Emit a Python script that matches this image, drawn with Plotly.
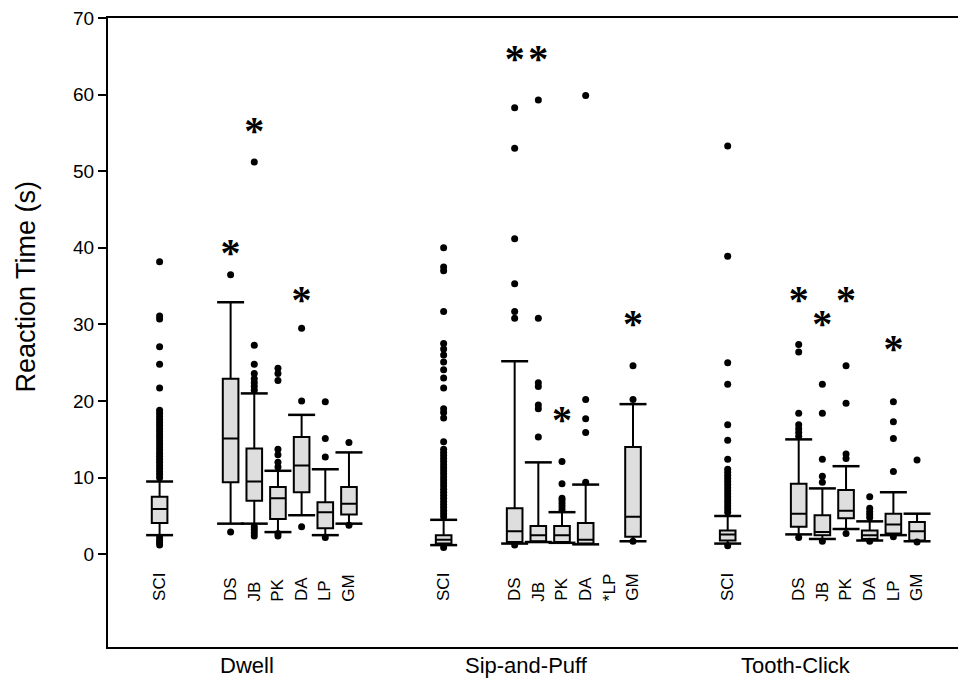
import plotly.graph_objects as go

# ---------------- data ----------------
groups = ["Dwell", "Sip-and-Puff", "Tooth-Click"]
categories = ["SCI", "DS", "JB", "PK", "DA", "LP", "GM"]
cat_labels = {
    "Dwell": ["SCI", "DS", "JB", "PK", "DA", "LP", "GM"],
    "Sip-and-Puff": ["SCI", "DS", "JB", "PK", "DA", "*LP", "GM"],
    "Tooth-Click": ["SCI", "DS", "JB", "PK", "DA", "LP", "GM"],
}

# box statistics per group (order follows categories); None = no data
dwell_lower = [2.5, 4.0, 4.0, 2.9, 5.1, 2.5, 4.0]
dwell_q1 = [4.1, 9.4, 7.0, 4.6, 8.1, 3.4, 5.2]
dwell_med = [5.9, 15.1, 9.5, 7.3, 11.6, 5.5, 6.6]
dwell_q3 = [7.5, 22.9, 13.8, 8.8, 15.3, 6.8, 8.8]
dwell_upper = [9.5, 32.9, 21.0, 10.9, 18.2, 11.1, 13.3]

sip_lower = [1.2, 1.4, 1.6, 1.5, 1.3, None, 1.7]
sip_q1 = [1.4, 1.6, 1.7, 1.6, 1.4, None, 2.3]
sip_med = [1.9, 3.0, 2.5, 2.5, 1.9, None, 4.9]
sip_q3 = [2.5, 6.0, 3.7, 3.7, 4.1, None, 14.0]
sip_upper = [4.5, 25.2, 12.0, 5.5, 9.1, None, 19.6]

tooth_lower = [1.4, 2.6, 2.0, 3.3, 1.8, 2.5, 1.7]
tooth_q1 = [1.8, 3.6, 2.5, 4.7, 2.0, 2.7, 1.8]
tooth_med = [2.6, 5.3, 2.9, 5.7, 2.5, 3.9, 3.0]
tooth_q3 = [3.1, 9.2, 5.1, 8.4, 3.1, 5.3, 4.2]
tooth_upper = [5.0, 15.0, 8.6, 11.5, 4.3, 8.1, 5.3]

# outliers per group / category
dwell_out = [
    [38.2, 31.1, 30.7, 27.1, 24.8, 21.7, 18.8, 18.4, 18.0, 17.6, 17.2, 16.8, 16.4, 16.0,
     15.6, 15.2, 14.8, 14.4, 14.0, 13.6, 13.2, 12.8, 12.4, 12.0, 11.6, 11.2, 10.8, 10.4,
     10.0, 2.2, 1.8, 1.5, 1.2],
    [36.5, 2.9],
    [51.2, 27.3, 24.8, 23.6, 22.9, 22.4, 21.9, 21.4, 3.6, 3.2, 2.8, 2.4],
    [24.3, 23.6, 22.7, 13.7, 13.0, 12.0, 11.4, 2.7, 2.4],
    [29.5, 20.0, 3.6],
    [19.9, 15.1, 12.7, 2.2],
    [14.6, 3.8],
]
sip_out = [
    [40.0, 37.5, 37.0, 31.7, 27.5, 26.8, 26.0, 25.1, 24.1, 23.0, 21.7, 19.0, 18.5, 17.8,
     14.7, 13.7, 13.3, 12.9, 12.5, 12.1, 11.7, 11.3, 10.9, 10.5, 10.1, 9.7, 9.3, 8.9, 8.5,
     8.1, 7.7, 7.3, 6.9, 6.5, 6.1, 5.7, 5.3, 4.9, 0.9],
    [58.3, 53.0, 41.2, 35.3, 31.7, 30.8, 1.2],
    [59.3, 30.8, 22.4, 21.9, 19.5, 19.0, 15.3],
    [12.1, 9.2, 7.3, 7.0, 6.6, 6.2, 5.8],
    [59.9, 20.2, 17.7, 15.9, 9.4],
    [],
    [24.6, 20.2, 1.7],
]
tooth_out = [
    [53.3, 38.9, 25.0, 22.2, 16.9, 14.9, 12.4, 11.1, 10.7, 10.3, 9.9, 9.5, 9.1, 8.7, 8.3,
     7.9, 7.5, 7.1, 6.7, 6.3, 5.9, 5.5, 1.1],
    [27.4, 26.4, 18.4, 16.9, 16.4, 15.9, 15.4, 2.2],
    [22.2, 18.4, 12.4, 10.2, 9.4, 1.7],
    [24.6, 19.7, 13.1, 12.5, 2.7],
    [7.5, 6.0, 5.6, 5.2, 4.8, 1.7],
    [19.9, 17.3, 15.1, 10.8, 2.3],
    [12.3, 1.6],
]

# significance asterisks: group, category, value
star_group = ["Dwell", "Dwell", "Dwell",
              "Sip-and-Puff", "Sip-and-Puff", "Sip-and-Puff", "Sip-and-Puff",
              "Tooth-Click", "Tooth-Click", "Tooth-Click", "Tooth-Click"]
star_cat = ["DS", "JB", "DA", "DS", "JB", "PK", "GM", "DS", "JB", "PK", "LP"]
star_value = [39.8, 55.7, 33.7, 65.1, 65.1, 18.0, 30.6, 33.7, 30.6, 33.7, 27.3]

# ---------------- layout helpers ----------------
GROUP_STEP = 12
SLOT = {"SCI": 0, "DS": 3, "JB": 4, "PK": 5, "DA": 6, "LP": 7, "GM": 8}
BOX_W = 0.66
CAP_HALF = 0.57
FONT = "Liberation Sans, Arial, sans-serif"


def pos(g, c):
    return groups.index(g) * GROUP_STEP + SLOT[c]


stats = {
    "Dwell": (dwell_lower, dwell_q1, dwell_med, dwell_q3, dwell_upper, dwell_out),
    "Sip-and-Puff": (sip_lower, sip_q1, sip_med, sip_q3, sip_upper, sip_out),
    "Tooth-Click": (tooth_lower, tooth_q1, tooth_med, tooth_q3, tooth_upper, tooth_out),
}

bx, blo, bq1, bmed, bq3, bup = [], [], [], [], [], []
cap_x, cap_y = [], []
ox, oy = [], []
for g in groups:
    lo, q1, md, q3, up, outs = stats[g]
    for i, c in enumerate(categories):
        x = pos(g, c)
        if md[i] is not None:
            bx.append(x); blo.append(lo[i]); bq1.append(q1[i]); bmed.append(md[i])
            bq3.append(q3[i]); bup.append(up[i])
            for v in (lo[i], up[i]):
                cap_x += [x - CAP_HALF, x + CAP_HALF, None]
                cap_y += [v, v, None]
        for v in outs[i]:
            ox.append(x); oy.append(v)

fig = go.Figure()
fig.add_trace(go.Box(
    x=bx, q1=bq1, median=bmed, q3=bq3, lowerfence=blo, upperfence=bup,
    width=BOX_W, whiskerwidth=0, boxpoints=False,
    fillcolor="#dedede", line=dict(color="black", width=2),
    showlegend=False, hoverinfo="skip",
))
fig.add_trace(go.Scatter(
    x=cap_x, y=cap_y, mode="lines", line=dict(color="black", width=2.5),
    showlegend=False, hoverinfo="skip",
))
fig.add_trace(go.Scatter(
    x=ox, y=oy, mode="markers", marker=dict(color="black", size=7),
    showlegend=False, hoverinfo="skip",
))
STAR_SHIFT = -0.9
fig.add_trace(go.Scatter(
    x=[pos(g, c) for g, c in zip(star_group, star_cat)],
    y=[v + STAR_SHIFT for v in star_value],
    mode="text", text=["*"] * len(star_value),
    textposition="middle center",
    textfont=dict(family="Liberation Serif, Times New Roman, serif", size=40,
                  color="black", weight="bold"),
    showlegend=False, hoverinfo="skip",
))

annotations = []
for g in groups:
    for i, c in enumerate(categories):
        annotations.append(dict(
            x=pos(g, c), y=-6.4, xref="x", yref="y", text=cat_labels[g][i],
            textangle=-90, showarrow=False, xanchor="center", yanchor="bottom",
            font=dict(family=FONT, size=17, color="black"),
        ))

group_label_x = [3.7, 15.5, 26.9]
for g, gx in zip(groups, group_label_x):
    annotations.append(dict(
        x=gx, y=-0.029, xref="x", yref="paper", text=g, showarrow=False,
        xanchor="center", yanchor="middle",
        font=dict(family=FONT, size=22, color="black"),
    ))

annotations.append(dict(
    x=-0.096, y=35, xref="paper", yref="y", text="Reaction Time (s)", textangle=-90,
    showarrow=False, xanchor="center", yanchor="middle",
    font=dict(family=FONT, size=27, color="black"),
))

fig.update_layout(
    width=963, height=679,
    margin=dict(l=108, r=5, t=18, b=32),
    plot_bgcolor="white", paper_bgcolor="white",
    annotations=annotations,
    xaxis=dict(range=[-2.18, 33.73], showgrid=False, zeroline=False, showticklabels=False,
               ticks="", showline=True, mirror=True, linecolor="black", linewidth=2),
    yaxis=dict(range=[-12.1, 70], tickvals=[0, 10, 20, 30, 40, 50, 60, 70],
               showgrid=False, zeroline=False, ticks="outside", ticklen=8, tickwidth=2,
               tickcolor="black", showline=True, linecolor="black", linewidth=2,
               tickfont=dict(family=FONT, size=19, color="black")),
)

fig.write_html("out.html")
